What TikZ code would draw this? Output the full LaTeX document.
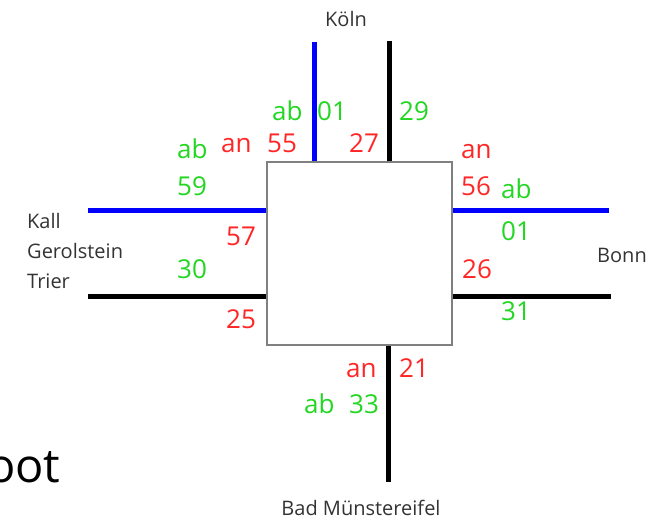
\documentclass[tikz,border=0pt]{standalone}
\usepackage{fontspec}
\setmainfont{Open Sans}
\definecolor{arrred}{RGB}{255,38,38}
\definecolor{depgreen}{RGB}{34,214,34}
\definecolor{lineblue}{RGB}{0,0,255}
\definecolor{boxgray}{RGB}{128,128,128}
\definecolor{citygray}{RGB}{51,51,51}
\begin{document}
\begin{tikzpicture}[x=1pt,y=-1pt,
  num/.style={font=\fontsize{26}{26}\selectfont, inner sep=0pt, anchor=base west},
  arr/.style={num, text=arrred},
  dep/.style={num, text=depgreen},
  city/.style={font=\fontsize{20}{24}\selectfont, text=citygray, inner sep=0pt, anchor=base west},
  rail/.style={line width=5pt, draw=black},
  express/.style={line width=5pt, draw=lineblue},
  hubbox/.style={draw=boxgray, fill=white, line width=2pt, minimum width=185pt, minimum height=183pt, inner sep=0pt}]
\useasboundingbox (0,0) rectangle (661,519);
\clip (0,0) rectangle (661,519);

% station block
\node[hubbox] (hub) at (359.5,253.5) {};

% free ends of the lines
\coordinate (koelnB) at (314,42);
\coordinate (koelnK) at (389,41);
\coordinate (westB) at (88,210);
\coordinate (westK) at (88,296);
\coordinate (eastB) at (609,210);
\coordinate (eastK) at (611,296);
\coordinate (south) at (388,482);

\draw[express] (koelnB) -- (koelnB |- hub.north);
\draw[rail] (koelnK) -- (koelnK |- hub.north);
\draw[express] (westB) -- (westB -| hub.west);
\draw[rail] (westK) -- (westK -| hub.west);
\draw[express] (eastB -| hub.east) -- (eastB);
\draw[rail] (eastK -| hub.east) -- (eastK);
\draw[rail] (south |- hub.south) -- (south);

% destinations
\node[city, anchor=base] (koeln) at (346,27) {Köln};
\node[city] (kall) at (27,228) {Kall};
\node[city] (gerol) at (27,258) {Gerolstein};
\node[city] (trier) at (27,288) {Trier};
\node[city] (bonn) at (597,262) {Bonn};
\node[city, anchor=base] (badm) at (361,515) {Bad Münstereifel};

% north track numbers
\node[dep] (nab) at (272,120) {ab};
\node[dep] (n01) at (317,120) {01};
\node[dep] (n29) at (399,120) {29};
\node[arr] (nan) at (221,152) {an};
\node[arr] (n55) at (267,152) {55};
\node[arr] (n27) at (349,152) {27};

% west track numbers
\node[dep] (wab) at (177,158) {ab};
\node[dep] (w59) at (177,195) {59};
\node[arr] (w57) at (226,245) {57};
\node[dep] (w30) at (177,278) {30};
\node[arr] (w25) at (226,328) {25};

% east track numbers
\node[arr] (ean) at (461,158) {an};
\node[arr] (e56) at (461,195) {56};
\node[dep] (eab) at (501,198) {ab};
\node[dep] (e01) at (501,240) {01};
\node[arr] (e26) at (462,278) {26};
\node[dep] (e31) at (501,320) {31};

% south track numbers
\node[arr] (san) at (346,377) {an};
\node[arr] (s21) at (399,377) {21};
\node[dep] (sab) at (304,413) {ab};
\node[dep] (s33) at (349,413) {33};

\node[font=\fontsize{47}{47}\selectfont, inner sep=0pt, anchor=base west] (caption) at (-13,482) {oot};
\end{tikzpicture}
\end{document}
